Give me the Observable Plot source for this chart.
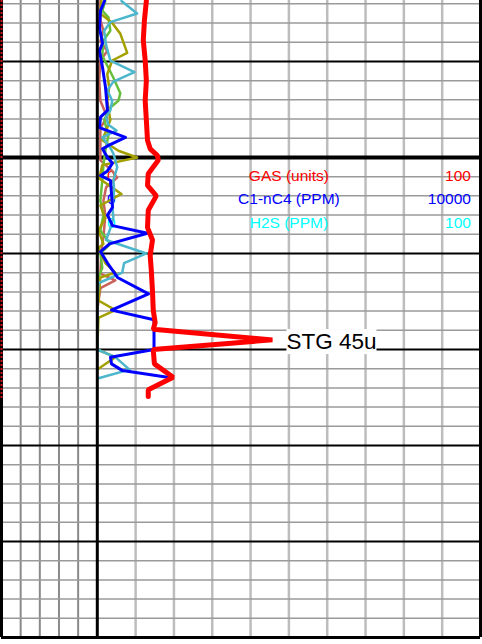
<!DOCTYPE html>
<html>
<head>
<meta charset="utf-8">
<script src="https://cdn.jsdelivr.net/npm/d3@7"></script>
<script src="https://cdn.jsdelivr.net/npm/@observablehq/plot@0.6"></script>
<style>
  html, body { margin: 0; padding: 0; background: #fff; }
  svg { display: block; }
</style>
</head>
<body>
<script>
// ---- depth range (m) ----
const topDepth = 1293.65;
const baseDepth = 1360;

// ---- GAS (units, 0-100) ----
const gasDepth = [1293.7,1295.7,1297.8,1299.9,1302.0,1304.1,1306.1,1308.2,1309.1,1309.8,1310.3,1311.7,1312.9,1314.0,1315.5,1317.3,1318.6,1320.2,1321.8,1323.9,1325.9,1327.2,1327.9,1329.0,1330.0,1331.5,1332.9,1334.2,1334.9];
const gasUnits = [12.8,12.3,12.0,12.5,12.8,12.5,12.8,13.1,13.8,15.7,15.9,13.3,13.1,15.4,13.3,13.1,14.4,13.8,14.1,14.4,14.6,15.1,14.6,45.7,14.6,14.9,19.8,13.3,13.3];

// ---- C1-nC4 (PPM, 0-10000) ----
const c1c4Depth = [1293.7,1294.7,1296.5,1298.1,1298.9,1300.6,1302.7,1305.1,1305.8,1306.9,1307.9,1308.8,1309.1,1310.0,1310.6,1311.4,1311.9,1312.4,1313.8,1315.2,1316.0,1317.1,1317.9,1319.0,1319.8,1321.0,1322.5,1324.2,1325.9,1326.9,1330.0,1330.8,1331.5,1332.2,1332.9];
const c1c4Ppm = [188,84,57,136,57,136,214,266,84,57,736,266,136,266,397,266,84,345,371,397,266,397,1310,318,84,266,527,1336,371,1480,1480,345,371,658,1832];

// ---- chromatograph components (track %, 0-100) ----
const c1Depth = [1293.7,1295.0,1295.9,1296.8,1298.3,1299.9,1301.1,1302.1,1303.0,1304.1,1305.1,1305.8,1306.6,1307.2,1307.9,1309.0,1309.6,1311.0,1312.4,1313.4,1315.0,1316.3,1317.4,1318.6,1320.0,1321.0,1322.0,1323.1,1324.9,1330.0,1330.8,1332.1,1333.0];
const c1Val = [6.3,10.4,3.4,1.8,2.3,3.4,9.7,4.2,2.6,3.9,3.4,2.3,2.9,5.0,1.3,3.4,4.2,5.2,4.2,4.4,3.9,4.2,3.4,2.3,12.8,7.0,6.5,0.3,0,0,4.7,8.4,0.3];

const c2Depth = [1293.7,1295.0,1296.0,1297.1,1299.1,1299.9,1301.3,1302.7,1304.1,1306.1,1308.2,1309.3,1310.0,1310.8,1312.2,1313.8,1315.0,1316.3,1317.6,1319.0,1319.4,1321.0,1322.0,1322.5,1324.9,1325.9,1326.7,1330.0,1330.8,1332.0];
const c2Val = [1.1,0.8,3.9,6.0,7.8,3.9,2.6,3.1,2.6,3.4,1.3,5.5,10.4,1.3,0.5,6.3,0.8,2.1,0.3,1.6,0.3,2.1,4.7,0.8,0.3,4.7,0.3,0,4.7,0.3];

const c3Depth = [1293.7,1294.7,1295.4,1296.8,1297.8,1299.4,1301.7,1303.3,1304.1,1304.8,1306.1,1307.7,1309.3,1310.8,1312.4,1314.5,1316.0,1317.6,1319.0,1320.0,1321.5,1322.8];
const c3Val = [2.1,1.3,2.9,3.4,1.6,1.3,4.2,6.0,5.5,3.4,1.8,2.9,2.1,1.6,1.3,0.8,1.6,0.8,3.4,0.8,1.3,0];

const c4Depth = [1293.7,1295.7,1296.8,1297.9,1298.9,1299.9,1302.0,1304.1,1305.8,1306.9,1308.2,1310.3,1311.4,1312.1,1313.1,1314.5,1316.0,1318.3,1319.6,1322.1,1322.8,1323.6,1325.9];
const c4Val = [0.8,0.8,1.6,0.8,2.6,0.8,0.5,0.8,2.6,0.8,0.8,0.8,3.9,5.2,2.3,1.6,2.1,1.6,1.1,0.8,4.7,0.8,0];

// ---- header / legend ----
const legendNames = ["GAS (units)", "C1-nC4 (PPM)", "H2S (PPM)"];
const legendLow = ["0", "0", "0"];
const legendHigh = ["100", "10000", "100"];
const legendColors = ["#ff0000", "#0000ff", "#00ffff"];

// ---- grid ticks ----
const leftTrackTicks = [-20, -15, -10, -5];
const rightTrackTicks = [10, 20, 30, 40, 50, 60, 70, 80, 90];
const trackBorders = [-25, 0, 100];
const majorDepths = [1300, 1320, 1330, 1340, 1350];
const heavyDepths = [1310];

// build tables
const zip = (ds, vs, k = 1) => ds.map((d, i) => ({d, v: vs[i] * k}));
const gas = zip(gasDepth, gasUnits);
const c1c4 = zip(c1c4Depth, c1c4Ppm, 100 / 10000);
const c1 = zip(c1Depth, c1Val);
const c2 = zip(c2Depth, c2Val);
const c3 = zip(c3Depth, c3Val);
const c4 = zip(c4Depth, c4Val);
const minorDepths = d3.range(1294, baseDepth, 2).filter(d => d % 10 !== 0);
const peak = gas.reduce((a, b) => (b.v > a.v ? b : a));

const legendTop = 1311.95, legendStep = 2.43;
const legend = legendNames.map((n, i) => ({
  name: n, lo: legendLow[i], hi: legendHigh[i], color: legendColors[i],
  d: legendTop + i * legendStep
}));

const font = "Liberation Sans, Arial, sans-serif";

const chart = Plot.plot({
  width: 482,
  height: 644,
  marginTop: 0,
  marginBottom: 7,
  marginLeft: 1,
  marginRight: 2,
  x: {domain: [-25, 100], axis: null},
  y: {domain: [topDepth, baseDepth], reverse: true, axis: null},
  style: {background: "white", fontFamily: font},
  marks: [
    Plot.ruleX(rightTrackTicks, {stroke: "#bdbdbd", strokeWidth: 2.5}),
    Plot.ruleX(leftTrackTicks, {stroke: "#8a8a8a", strokeWidth: 2}),
    Plot.ruleY(minorDepths, {stroke: "#9a9a9a", strokeWidth: 1.5}),
    Plot.ruleY(majorDepths, {stroke: "black", strokeWidth: 2}),
    Plot.ruleY(heavyDepths, {stroke: "black", strokeWidth: 4}),
    Plot.ruleY([baseDepth], {stroke: "black", strokeWidth: 3}),
    // legend
    Plot.text(legend, {x: 50, y: "d", text: "name", fill: "color", fontSize: 15.5, textAnchor: "middle"}),
    Plot.text(legend, {x: 2.5, y: "d", text: "lo", fill: "color", fontSize: 15.5, textAnchor: "start"}),
    Plot.text(legend, {x: 97.5, y: "d", text: "hi", fill: "color", fontSize: 15.5, textAnchor: "end"}),
    // curves
    Plot.line(c4, {x: "v", y: "d", stroke: "#c8625a", strokeWidth: 2.5}),
    Plot.line(c3, {x: "v", y: "d", stroke: "#66bf3a", strokeWidth: 2.5}),
    Plot.line(c2, {x: "v", y: "d", stroke: "#a3a000", strokeWidth: 2.5}),
    Plot.line(c1, {x: "v", y: "d", stroke: "#4cb6cc", strokeWidth: 2.5}),
    Plot.line(c1c4, {x: "v", y: "d", stroke: "#0000ff", strokeWidth: 3}),
    Plot.line(gas, {x: "v", y: "d", stroke: "#ff0000", strokeWidth: 5, strokeLinejoin: "miter"}),
    // track borders on top of the curves
    Plot.ruleX(trackBorders, {stroke: "black", strokeWidth: 3}),
    Plot.ruleX([-25], {y1: topDepth, y2: 1335.3, stroke: "#d01010", strokeWidth: 2, strokeDasharray: "2,2"}),
    // show-gas label
    Plot.text([peak], {x: "v", y: "d", text: p => `STG ${Math.floor(p.v)}u`, dx: 14, dy: 2,
      textAnchor: "start", fontSize: 22.5, fill: "black"})
  ]
});

document.body.append(chart);

// white box behind the show label
const stg = Array.from(chart.querySelectorAll("text")).find(t => t.textContent.startsWith("STG"));
if (stg) {
  const b = stg.getBBox();
  const r = document.createElementNS("http://www.w3.org/2000/svg", "rect");
  r.setAttribute("x", b.x);
  r.setAttribute("y", b.y);
  r.setAttribute("width", b.width);
  r.setAttribute("height", b.height);
  r.setAttribute("fill", "white");
  r.setAttribute("stroke", "none");
  if (stg.getAttribute("transform")) r.setAttribute("transform", stg.getAttribute("transform"));
  stg.parentNode.insertBefore(r, stg);
}
</script>
</body>
</html>
